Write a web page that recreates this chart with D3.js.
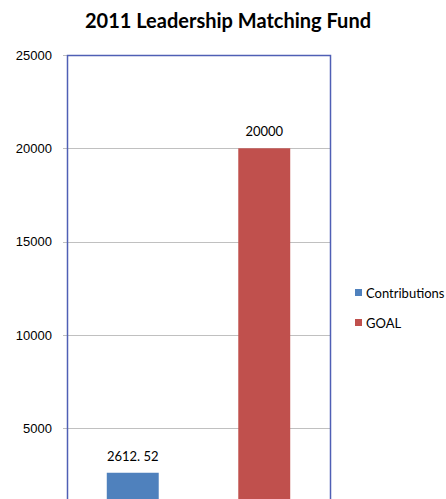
<!DOCTYPE html>
<html>
<head>
	<title>2011 Leadership Matching Fund</title>
	<script src="https://d3js.org/d3.v7.min.js"></script>
	<style type="text/css">
		body { margin: 0; background: #fff; }
		svg { display: block; font-family: "Lato", "Open Sans", sans-serif; }
		.title { font-size: 20px; font-weight: bold; fill: #000; }
		.tick text { font-size: 13px; fill: #000; }
		.value { font-size: 13px; fill: #000; }
		.legend text { font-size: 13px; fill: #000; }
	</style>
</head>
<body>
<div id="chart"></div>
<script>
	// chart values
	var categories = ["Contributions", "GOAL"];
	var values = [2612.52, 20000];
	var valueLabels = ["2612. 52", "20000"];
	var colors = ["#4f81bd", "#c0504d"];
	// 0 sits just below the visible area, so only these ticks are drawn
	var yTicks = [5000, 10000, 15000, 20000, 25000];

	var width = 446, height = 499;
	var margin = {top: 55, left: 67, right: 116};
	var plotRight = width - margin.right;

	var svg = d3.select("#chart").append("svg")
		.attr("width", width)
		.attr("height", height);

	var y = d3.scaleLinear()
		.domain([0, 25000])
		.range([521.5, margin.top]);

	var x = d3.scaleBand()
		.domain(categories)
		.range([margin.left, plotRight])
		.paddingInner(0.605)
		.paddingOuter(0.3025);

	svg.append("text")
		.attr("class", "title")
		.attr("x", 228)
		.attr("y", 28)
		.attr("text-anchor", "middle")
		.text("2011 Leadership Matching Fund");

	// gridlines
	svg.append("g")
		.selectAll("line")
		.data(yTicks)
		.enter().append("line")
		.attr("x1", margin.left - 4)
		.attr("x2", plotRight)
		.attr("y1", function(d){ return Math.round(y(d)) + 0.5; })
		.attr("y2", function(d){ return Math.round(y(d)) + 0.5; })
		.attr("stroke", "#c0c0c0")
		.attr("stroke-width", 1);

	var axis = d3.axisLeft(y)
		.tickValues(yTicks)
		.tickFormat(d3.format("d"))
		.tickSize(0)
		.tickPadding(15);

	svg.append("g")
		.attr("transform", "translate(" + margin.left + ",0)")
		.call(axis)
		.call(function(g){ g.select(".domain").remove(); });

	// bars
	svg.selectAll(".bar")
		.data(values)
		.enter().append("rect")
		.attr("class", "bar")
		.attr("x", function(d, i){ return x(categories[i]); })
		.attr("width", x.bandwidth())
		.attr("y", function(d){ return y(d); })
		.attr("height", function(d){ return y(0) - y(d); })
		.attr("fill", function(d, i){ return colors[i]; });

	svg.selectAll(".value")
		.data(values)
		.enter().append("text")
		.attr("class", "value")
		.attr("x", function(d, i){ return x(categories[i]) + x.bandwidth() / 2; })
		.attr("y", function(d){ return y(d) - 12; })
		.attr("text-anchor", "middle")
		.text(function(d, i){ return valueLabels[i]; });

	// plot frame
	svg.append("rect")
		.attr("x", margin.left + 0.5)
		.attr("y", margin.top + 0.5)
		.attr("width", plotRight - margin.left)
		.attr("height", height)
		.attr("fill", "none")
		.attr("stroke", "#4f5fb5")
		.attr("stroke-width", 1.5);

	// legend
	var legend = svg.append("g")
		.attr("class", "legend")
		.selectAll("g")
		.data(categories)
		.enter().append("g")
		.attr("transform", function(d, i){ return "translate(355," + (289 + i * 30) + ")"; });

	legend.append("rect")
		.attr("width", 7)
		.attr("height", 7)
		.attr("fill", function(d, i){ return colors[i]; });

	legend.append("text")
		.attr("x", 11)
		.attr("y", 7)
		.attr("dy", "0.15em")
		.text(function(d){ return d; });
</script>
</body>
</html>
